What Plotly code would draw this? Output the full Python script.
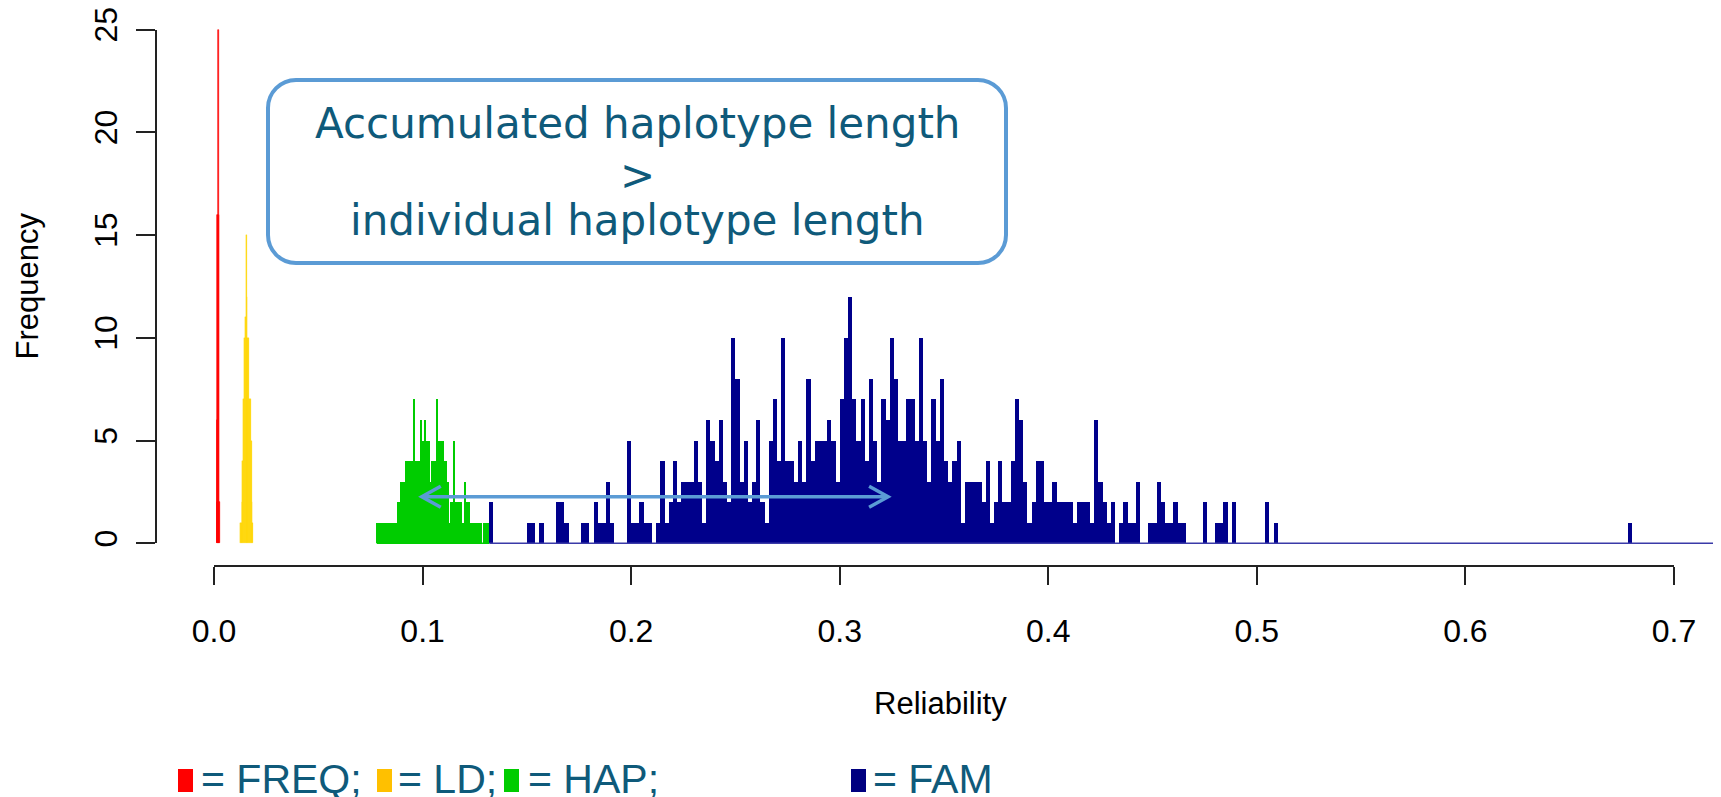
import plotly.graph_objects as go
import numpy as np

# ---------------- data ----------------
x_tick_vals = [0.0, 0.1, 0.2, 0.3, 0.4, 0.5, 0.6, 0.7]
x_tick_text = ["0.0", "0.1", "0.2", "0.3", "0.4", "0.5", "0.6", "0.7"]
y_tick_vals = [0, 5, 10, 15, 20, 25]
y_tick_text = ["0", "5", "10", "15", "20", "25"]

freq_bin_start = 0.0012
freq_bin_width = 0.0002
freq_counts = [2, 6, 16, 16, 25, 16, 2, 2]

ld_bin_start = 0.0124
ld_bin_width = 0.0004
ld_counts = [1, 1, 2, 4, 7, 10, 11, 15, 12, 10, 10, 7, 7, 5, 2, 1]

hap_bin_start = 0.078
hap_bin_width = 0.0005
hap_counts = [1, 1, 1, 1, 0, 1, 1, 1, 1, 1,
              0, 1, 1, 1, 1, 1, 1, 1, 1, 1,
              2, 2, 2, 3, 3, 3, 3, 3, 4, 4,
              4, 4, 4, 4, 4, 7, 4, 4, 4, 4,
              4, 4, 6, 5, 5, 5, 6, 5, 5, 5,
              5, 3, 3, 4, 4, 4, 4, 7, 5, 5,
              5, 5, 5, 5, 4, 4, 4, 3, 3, 1,
              1, 2, 2, 2, 5, 2, 2, 2, 2, 2,
              2, 1, 1, 1, 3, 2, 2, 2, 2, 1,
              1, 1, 1, 1, 0, 1, 1, 1, 1, 0,
              1, 0, 1, 1, 1, 1, 1, 1]

fam_bin_start = 0.132
fam_bin_width = 0.002
fam_counts = [2, 0, 0, 0, 0, 0, 0, 0, 0, 1,
              1, 0, 1, 0, 0, 0, 2, 2, 1, 0,
              0, 0, 1, 1, 0, 2, 1, 1, 3, 1,
              0, 0, 0, 5, 1, 1, 2, 1, 1, 0,
              1, 4, 1, 2, 4, 2, 3, 3, 3, 5,
              3, 1, 6, 5, 4, 6, 3, 2, 10, 8,
              3, 5, 2, 3, 6, 2, 1, 5, 7, 4,
              10, 4, 4, 3, 5, 3, 8, 4, 5, 5,
              5, 6, 5, 3, 7, 10, 12, 7, 5, 7,
              4, 8, 5, 3, 7, 6, 10, 8, 5, 5,
              7, 7, 5, 10, 5, 3, 7, 5, 8, 4,
              3, 4, 5, 1, 3, 3, 3, 3, 2, 4,
              1, 2, 4, 2, 2, 4, 7, 6, 3, 1,
              2, 4, 4, 2, 2, 3, 2, 2, 2, 2,
              1, 2, 2, 2, 1, 6, 3, 2, 1, 2,
              0, 1, 2, 1, 1, 3, 0, 0, 1, 1,
              3, 2, 1, 1, 2, 1, 1, 0, 0, 0,
              0, 2, 0, 0, 1, 1, 2, 0, 2, 0,
              0, 0, 0, 0, 0, 0, 2, 0, 1, 0]
fam_tail_left = [0.678, 0.722]
fam_tail_counts = [1, 2]
fam_range_end = 0.724

arrow_from = 0.3232
arrow_to = 0.0996
arrow_level = 2.27

legend_labels = ["= FREQ;", "= LD;", "= HAP;", "= FAM"]
legend_colors = ["#ff0000", "#ffc000", "#00cc00", "#000080"]

box_lines = ["Accumulated haplotype length", ">", "individual haplotype length"]

# ---------------- geometry (target screen pixels) ----------------
W, H = 1721, 797
OFF = 8                                # page body margin offset of the figure
PL, PR, PT, PB = 156, W + OFF, OFF, 566  # data plot area in screen pixels
X_PER_UNIT = 2085.7                    # px per reliability unit
X0_PX = 214.0                          # pixel of reliability 0
Y_PER_UNIT = 20.548                    # px per count
Y0_PX = 543.3                          # pixel of count 0

x_lo = (PL - X0_PX) / X_PER_UNIT
x_hi = (PR - X0_PX) / X_PER_UNIT
y_lo = -(PB - Y0_PX) / Y_PER_UNIT
y_hi = (Y0_PX - PT) / Y_PER_UNIT

def fx(p):
    return (p - OFF) / W

def fy(p):
    return (H - (p - OFF)) / H

TEAL = "#0f5a7a"
BOXBLUE = "#5b9bd5"
RFONT = "Liberation Sans, Arial, sans-serif"

COL_FREQ = "#ff0000"
COL_LD = "#ffd700"
COL_HAP = "#00cc00"
COL_FAM = "#00008b"

fig = go.Figure()

def add_hist(start, width, counts, color, line_w=0):
    n = len(counts)
    lefts = start + width * np.arange(n)
    fig.add_trace(go.Bar(
        x=lefts + width / 2, y=counts, width=[width] * n,
        marker=dict(color=color, line=dict(width=line_w, color=color)),
        xaxis="x", yaxis="y", showlegend=False, hoverinfo="skip"))

# baselines of zero-height bins
fig.add_trace(go.Scatter(x=[hap_bin_start, hap_bin_start + hap_bin_width * len(hap_counts)],
                         y=[0, 0], mode="lines", line=dict(color=COL_HAP, width=1.5),
                         showlegend=False, hoverinfo="skip"))
fig.add_trace(go.Scatter(x=[fam_bin_start, fam_range_end], y=[0, 0], mode="lines",
                         line=dict(color="#3a3aa8", width=1.5),
                         showlegend=False, hoverinfo="skip"))

add_hist(freq_bin_start, freq_bin_width, freq_counts, COL_FREQ, 0.6)
add_hist(ld_bin_start, ld_bin_width, ld_counts, COL_LD, 0.3)
add_hist(hap_bin_start, hap_bin_width, hap_counts, COL_HAP)
add_hist(fam_bin_start, fam_bin_width, fam_counts, COL_FAM)
fig.add_trace(go.Bar(x=np.array(fam_tail_left) + fam_bin_width / 2, y=fam_tail_counts,
                     width=[fam_bin_width] * len(fam_tail_counts),
                     marker=dict(color=COL_FAM, line=dict(width=0)),
                     showlegend=False, hoverinfo="skip"))

# dummy traces: R-style axes (x2/y2) and a pixel overlay (x3/y3) for decorations
fig.add_trace(go.Scatter(x=[0.35], y=[12.5], xaxis="x2", yaxis="y2", mode="markers",
                         marker=dict(opacity=0), showlegend=False, hoverinfo="skip"))
fig.add_trace(go.Scatter(x=[100], y=[100], xaxis="x3", yaxis="y3", mode="markers",
                         marker=dict(opacity=0), showlegend=False, hoverinfo="skip"))

tick_font = dict(family=RFONT, size=32, color="#000000")
lab_font = dict(family=RFONT, size=31, color="#000000")

fig.update_layout(
    width=W, height=H,
    margin=dict(l=0, r=0, t=0, b=0, pad=0, autoexpand=False),
    paper_bgcolor="white", plot_bgcolor="rgba(0,0,0,0)",
    barmode="overlay", bargap=0,
    showlegend=False,
    xaxis=dict(domain=[fx(PL), fx(PR)], range=[x_lo, x_hi], visible=False,
               fixedrange=True, anchor="y"),
    yaxis=dict(domain=[fy(PB), fy(PT)], range=[y_lo, y_hi], visible=False,
               fixedrange=True, anchor="x"),
    xaxis2=dict(domain=[fx(X0_PX), fx(X0_PX + 0.7 * X_PER_UNIT)], range=[0, 0.7],
                anchor="free", position=fy(PB), showline=True, linecolor="#222222",
                linewidth=1.5, ticks="outside", ticklen=18, tickwidth=1.5,
                tickcolor="#222222", tickvals=x_tick_vals, ticktext=x_tick_text,
                tickfont=tick_font, ticklabelstandoff=19, automargin=False,
                ticklabeloverflow="allow",
                showgrid=False, zeroline=False, fixedrange=True),
    yaxis2=dict(domain=[fy(Y0_PX), fy(Y0_PX - 25 * Y_PER_UNIT)], range=[0, 25],
                anchor="free", position=fx(PL), showline=True, linecolor="#222222",
                linewidth=1.5, ticks="outside", ticklen=19, tickwidth=1.5,
                tickcolor="#222222", tickvals=y_tick_vals, ticktext=y_tick_text,
                tickfont=tick_font, tickangle=-90, ticklabelstandoff=6, automargin=False,
                ticklabeloverflow="allow",
                showgrid=False, zeroline=False, fixedrange=True),
    xaxis3=dict(domain=[0, 1], range=[OFF, W + OFF], visible=False, fixedrange=True,
                anchor="y3"),
    yaxis3=dict(domain=[0, 1], range=[H + OFF, OFF], visible=False, fixedrange=True,
                anchor="x3"),
)

shapes = []
# rounded callout box (screen pixel coordinates)
L, T, R, B, r = 268, 80, 1006, 263, 28
k = 0.5523 * r
path = (f"M {L+r},{T} L {R-r},{T} "
        f"C {R-r+k},{T} {R},{T+r-k} {R},{T+r} "
        f"L {R},{B-r} "
        f"C {R},{B-r+k} {R-r+k},{B} {R-r},{B} "
        f"L {L+r},{B} "
        f"C {L+r-k},{B} {L},{B-r+k} {L},{B-r} "
        f"L {L},{T+r} "
        f"C {L},{T+r-k} {L+r-k},{T} {L+r},{T} Z")
shapes.append(dict(type="path", xref="x3", yref="y3", path=path,
                   line=dict(color=BOXBLUE, width=4), fillcolor="white", layer="above"))

# double-headed arrow (data coordinates)
dxh = 19 / X_PER_UNIT
dyh = 10.5 / Y_PER_UNIT
shapes.append(dict(type="line", xref="x", yref="y", x0=arrow_to + 0.001, x1=arrow_from - 0.001,
                   y0=arrow_level, y1=arrow_level, line=dict(color=BOXBLUE, width=3.5)))
shapes.append(dict(type="path", xref="x", yref="y",
                   path=f"M {arrow_to+dxh},{arrow_level+dyh} L {arrow_to},{arrow_level} L {arrow_to+dxh},{arrow_level-dyh}",
                   line=dict(color=BOXBLUE, width=3.5)))
shapes.append(dict(type="path", xref="x", yref="y",
                   path=f"M {arrow_from-dxh},{arrow_level+dyh} L {arrow_from},{arrow_level} L {arrow_from-dxh},{arrow_level-dyh}",
                   line=dict(color=BOXBLUE, width=3.5)))

# legend squares (screen pixel coordinates)
sq_x = [178, 377, 504, 851]
text_x = [199, 396, 526, 871]
for xs, c in zip(sq_x, legend_colors):
    shapes.append(dict(type="rect", xref="x3", yref="y3",
                       x0=xs, x1=xs + 15, y0=769, y1=792,
                       fillcolor=c, line=dict(width=0)))
fig.update_layout(shapes=shapes)

ann = []
box_y = [123, 175.5, 220.5]
for txt, yy in zip(box_lines, box_y):
    ann.append(dict(text=txt, xref="x3", yref="y3", x=637, y=yy,
                    xanchor="center", yanchor="middle", showarrow=False,
                    font=dict(family="DejaVu Sans", size=42, color=TEAL)))
for txt, xx in zip(legend_labels, text_x):
    ann.append(dict(text=txt, xref="x3", yref="y3", x=xx, y=779,
                    xanchor="left", yanchor="middle", showarrow=False,
                    font=dict(family=RFONT, size=41, color=TEAL)))
ann.append(dict(text="Reliability", xref="x3", yref="y3", x=940, y=703.5,
                xanchor="center", yanchor="middle", showarrow=False, font=lab_font))
ann.append(dict(text="Frequency", xref="x3", yref="y3", x=27, y=286.5,
                xanchor="center", yanchor="middle", showarrow=False, textangle=-90,
                font=lab_font))
fig.update_layout(annotations=ann)

fig.write_html("out.html")
